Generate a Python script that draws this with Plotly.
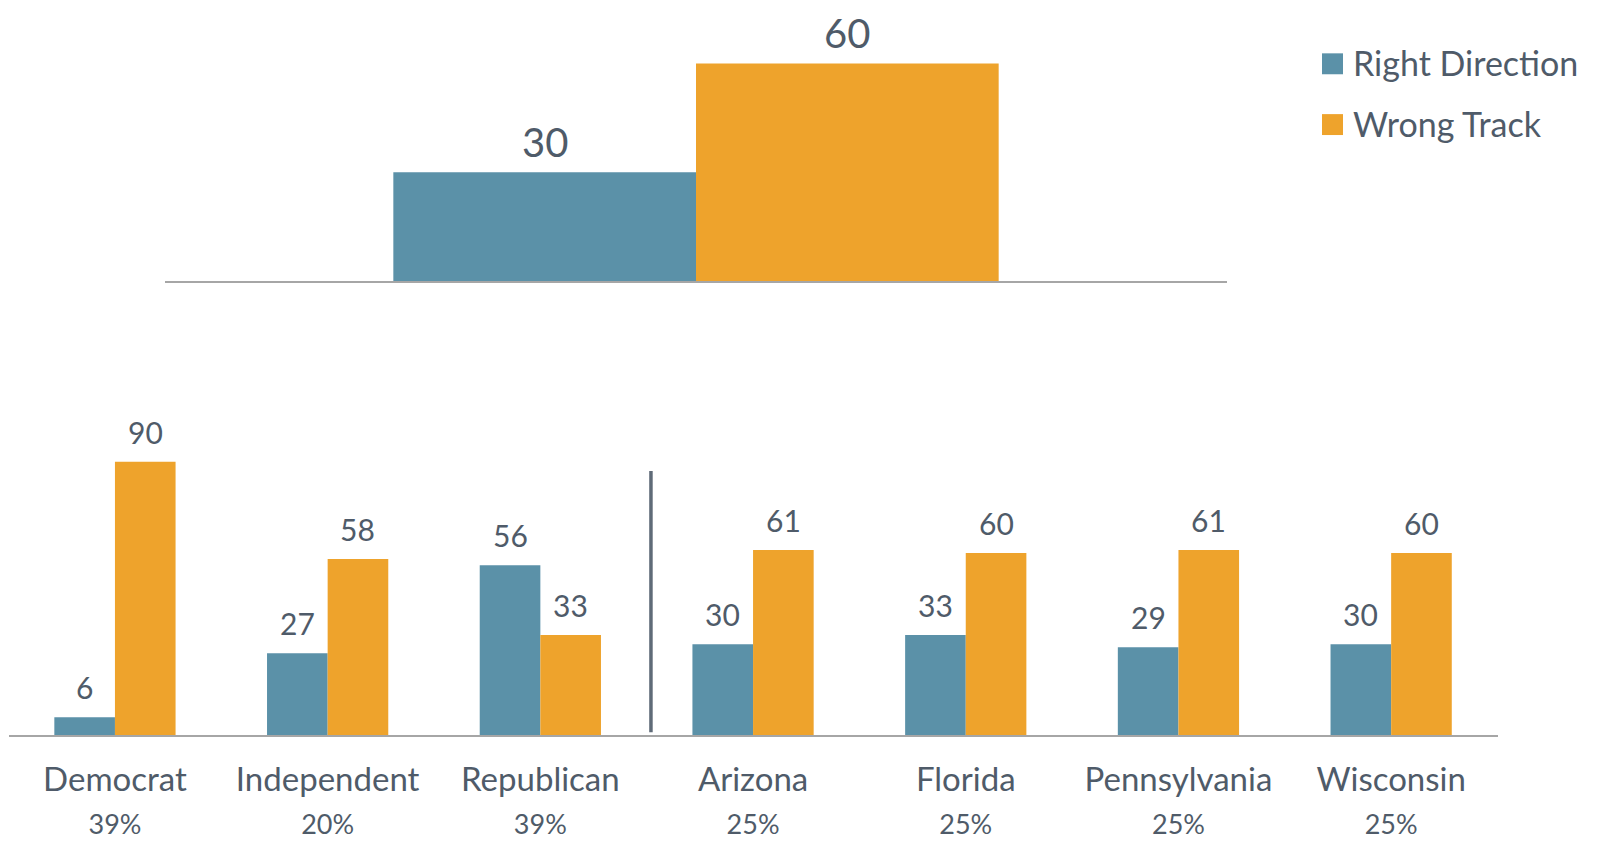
import plotly.graph_objects as go

# ---- data ----
series_names = ["Right Direction", "Wrong Track"]
series_colors = ["#5B91A8", "#EEA32C"]

overall_category = ["All"]
overall_right = [30]
overall_wrong = [60]

groups = ["Democrat", "Independent", "Republican", "Arizona", "Florida", "Pennsylvania", "Wisconsin"]
group_shares = ["39%", "20%", "39%", "25%", "25%", "25%", "25%"]
group_right = [6, 27, 56, 30, 33, 29, 30]
group_wrong = [90, 58, 33, 61, 60, 61, 60]

# ---- style ----
OFF = 8  # page body margin
W, H = 1600 - 2 * OFF, 848 - 2 * OFF
FONT = "Lato"
TEXT = "#4F5B69"
AXIS = "#A6A6A6"
BARGAP = 0.43


def fx(px):
    return (px - OFF) / W


def fy(py):
    return 1 - (py - OFF) / H


fig = go.Figure()

fig.add_trace(go.Bar(x=overall_category, y=overall_right, name=series_names[0],
                     marker=dict(color=series_colors[0], line_width=0), xaxis="x", yaxis="y", showlegend=False))
fig.add_trace(go.Bar(x=overall_category, y=overall_wrong, name=series_names[1],
                     marker=dict(color=series_colors[1], line_width=0), xaxis="x", yaxis="y", showlegend=False))
fig.add_trace(go.Bar(x=groups, y=group_right, name=series_names[0],
                     marker=dict(color=series_colors[0], line_width=0), xaxis="x2", yaxis="y2", showlegend=False))
fig.add_trace(go.Bar(x=groups, y=group_wrong, name=series_names[1],
                     marker=dict(color=series_colors[1], line_width=0), xaxis="x2", yaxis="y2", showlegend=False))

off = (1 - BARGAP) / 4
annotations = []
for i, (r, w) in enumerate(zip(overall_right, overall_wrong)):
    for val, sign in ((r, -1), (w, 1)):
        annotations.append(dict(x=i + sign * off, y=val, xref="x", yref="y", text=str(val),
                                showarrow=False, yanchor="middle", yshift=30,
                                font=dict(family=FONT, size=40, color=TEXT)))
for i, (r, w) in enumerate(zip(group_right, group_wrong)):
    for val, sign in ((r, -1), (w, 1)):
        annotations.append(dict(x=i + sign * off, y=val, xref="x2", yref="y2", text=str(val),
                                showarrow=False, yanchor="middle", yshift=30,
                                font=dict(family=FONT, size=30, color=TEXT)))

# manual legend
shapes = []
leg_y = [64, 125]
for name, col, yc in zip(series_names, series_colors, leg_y):
    shapes.append(dict(type="rect", xref="paper", yref="paper",
                       x0=fx(1322), x1=fx(1343), y0=fy(yc - 10.5), y1=fy(yc + 10.5),
                       fillcolor=col, line_width=0))
    annotations.append(dict(x=fx(1351), y=fy(yc - 1), xref="paper", yref="paper", text=name,
                            showarrow=False, xanchor="left", yanchor="middle",
                            font=dict(family=FONT, size=34, color=TEXT)))

# divider between party and state groups
shapes.append(dict(type="line", xref="x2", yref="y2", x0=2.52, x1=2.52, y0=1, y1=87,
                   line=dict(color="#5F6B78", width=3.5)))

ticktext = [f"{g}<br><span style='font-size:27px'>{s}</span>" for g, s in zip(groups, group_shares)]

fig.update_layout(
    width=W, height=H,
    margin=dict(l=0, r=0, t=0, b=0),
    paper_bgcolor="white", plot_bgcolor="white",
    barmode="group", bargap=BARGAP, bargroupgap=0,
    font=dict(family=FONT, color=TEXT),
    xaxis=dict(domain=[fx(165), fx(1227)], anchor="y", showline=True, linecolor=AXIS, linewidth=2,
               showticklabels=False, ticks="", showgrid=False, zeroline=False, fixedrange=True),
    yaxis=dict(domain=[fy(282), 1.0], anchor="x", range=[0, (282 - OFF) / 3.64], visible=False,
               showgrid=False, zeroline=False),
    xaxis2=dict(domain=[max(fx(8.6), 0), fx(1497.5)], anchor="y2", showline=True, linecolor=AXIS, linewidth=2,
                tickmode="array", tickvals=groups, ticktext=ticktext, ticks="",
                tickfont=dict(family=FONT, size=33, color=TEXT), showgrid=False, zeroline=False,
                ticklabelstandoff=14),
    yaxis2=dict(domain=[fy(738), fy(420)], anchor="x2", range=[0, 318 / 3.05], visible=False,
                showgrid=False, zeroline=False),
    annotations=annotations,
    shapes=shapes,
)

fig.write_html("out.html")
